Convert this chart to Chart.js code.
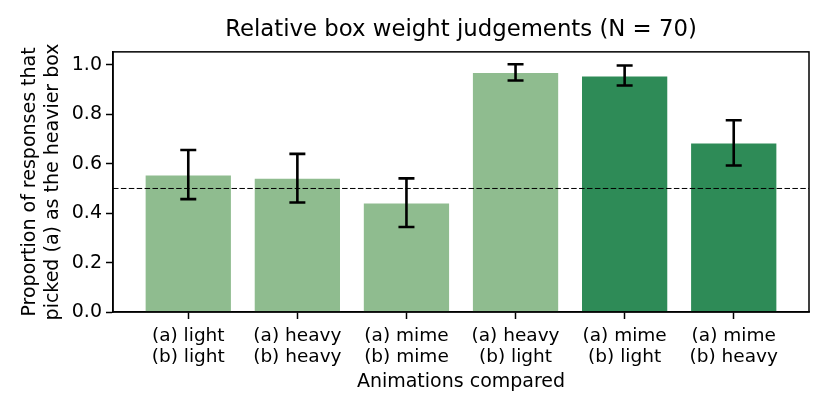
<!DOCTYPE html>
<html>
<head>
<meta charset="utf-8">
<script src="https://cdn.jsdelivr.net/npm/chart.js@4/dist/chart.umd.min.js"></script>
<style>
  html, body { margin: 0; padding: 0; background: #fff; }
  canvas { display: block; }
</style>
</head>
<body>
<canvas id="c" width="830" height="415"></canvas>
<script>
// ---- data ----
const categories = [
  ['(a) light', '(b) light'],
  ['(a) heavy', '(b) heavy'],
  ['(a) mime', '(b) mime'],
  ['(a) heavy', '(b) light'],
  ['(a) mime', '(b) light'],
  ['(a) mime', '(b) heavy']
];
const proportions = [0.557, 0.543, 0.443, 0.971, 0.957, 0.686];
const ciLow  = [0.457, 0.443, 0.344, 0.937, 0.917, 0.593];
const ciHigh = [0.656, 0.640, 0.541, 1.003, 0.998, 0.776];
const barGroup = ['light', 'light', 'light', 'light', 'dark', 'dark'];
const chanceLevel = 0.5;
const yTicks = [0, 0.2, 0.4, 0.6, 0.8, 1.0];
const titleText = 'Relative box weight judgements (N = 70)';
const xTitle = 'Animations compared';
const yTitle = ['Proportion of responses that', 'picked (a) as the heavier box'];

const colorMap = { light: '#8fbc8f', dark: '#2e8b57' };
const FONT = 'DejaVu Sans';

const overlay = {
  id: 'overlay',
  afterDatasetsDraw(chart) {
    const { ctx, chartArea: a, scales: { x, y } } = chart;
    ctx.save();
    // chance line
    ctx.strokeStyle = '#000';
    ctx.lineWidth = 1;
    ctx.setLineDash([5.5, 2.4]);
    const yc = y.getPixelForValue(chanceLevel);
    ctx.beginPath();
    ctx.moveTo(a.left, yc);
    ctx.lineTo(a.right, yc);
    ctx.stroke();
    ctx.setLineDash([]);
    // error bars
    ctx.lineWidth = 2.6;
    ctx.lineCap = 'butt';
    proportions.forEach((p, i) => {
      const px = x.getPixelForValue(i);
      const y1 = y.getPixelForValue(ciLow[i]);
      const y2 = y.getPixelForValue(ciHigh[i]);
      ctx.beginPath();
      ctx.moveTo(px, y1); ctx.lineTo(px, y2);
      ctx.moveTo(px - 8, y1); ctx.lineTo(px + 8, y1);
      ctx.moveTo(px - 8, y2); ctx.lineTo(px + 8, y2);
      ctx.stroke();
    });
    // frame
    ctx.lineWidth = 1.5;
    ctx.strokeRect(a.left, a.top, a.right - a.left, a.bottom - a.top);
    ctx.restore();
  }
};

new Chart(document.getElementById('c'), {
  type: 'bar',
  data: {
    datasets: [{
      data: proportions.map((v, i) => ({ x: i, y: v })),
      backgroundColor: barGroup.map(g => colorMap[g]),
      borderColor: 'rgba(255,255,255,0.35)',
      borderWidth: 1,
      barPercentage: 1,
      categoryPercentage: 0.8
    }]
  },
  options: {
    responsive: false,
    devicePixelRatio: 1,
    animation: false,
    layout: { padding: { left: 0, right: 21, top: 0, bottom: 0 } },
    plugins: {
      legend: { display: false },
      tooltip: { enabled: false },
      title: {
        display: true,
        fullSize: false,
        text: titleText,
        color: '#000',
        font: { family: FONT, size: 22.8, weight: 'normal' },
        padding: { top: 16.5, bottom: 8 }
      }
    },
    scales: {
      x: {
        type: 'linear',
        min: -0.69,
        max: 5.69,
        offset: false,
        afterBuildTicks: s => { s.ticks = categories.map((_, i) => ({ value: i })); },
        afterFit: s => { s.height = 103; },
        ticks: {
          color: '#000',
          font: { family: FONT, size: 18.5, lineHeight: 1.17 },
          padding: 6,
          maxRotation: 0,
          autoSkip: false,
          callback: v => categories[v]
        },
        grid: { offset: false, drawOnChartArea: false, drawTicks: true, tickLength: 7, tickColor: '#000', tickWidth: 1.5 },
        border: { display: true, color: '#000', width: 1.5 },
        title: {
          display: true,
          text: xTitle,
          color: '#000',
          font: { family: FONT, size: 19 },
          padding: { top: 0, bottom: 22 }
        }
      },
      y: {
        min: 0,
        max: 1.053,
        afterBuildTicks: s => { s.ticks = yTicks.map(v => ({ value: v })); },
        afterFit: s => { s.width = 113; },
        ticks: {
          color: '#000',
          font: { family: FONT, size: 19 },
          padding: 4,
          callback: v => v.toFixed(1)
        },
        grid: { drawOnChartArea: false, drawTicks: true, tickLength: 7, tickColor: '#000', tickWidth: 1.5 },
        border: { display: true, color: '#000', width: 1.5 },
        title: {
          display: true,
          text: yTitle,
          color: '#000',
          font: { family: FONT, size: 19 },
          padding: { top: 19, bottom: 0 }
        }
      }
    }
  },
  plugins: [overlay]
});
</script>
</body>
</html>
